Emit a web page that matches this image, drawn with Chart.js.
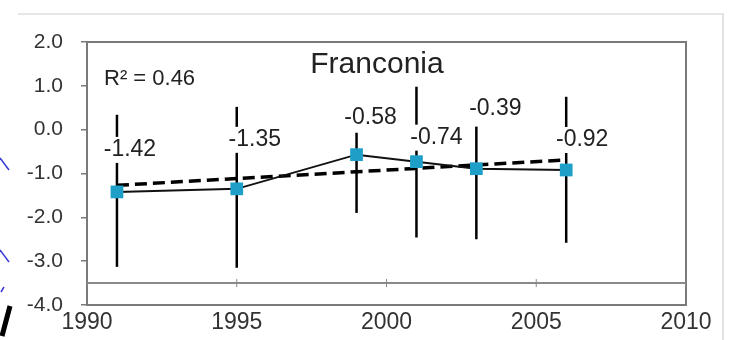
<!DOCTYPE html>
<html>
<head>
<meta charset="utf-8">
<script src="https://cdn.jsdelivr.net/npm/chart.js@4/dist/chart.umd.min.js"></script>
<style>
    html, body { margin: 0; padding: 0; background: #fff; }
    #wrap { position: relative; width: 735px; height: 340px; overflow: hidden; }
    #frame { position: absolute; left: 18px; top: 13px; width: 704px; height: 340px;
             border-top: 2px solid #e6e6e6; border-right: 2px solid #e2e2e2; }
    #deco { position: absolute; left: 0; top: 0; }
    canvas { position: absolute; left: 0; top: 0; }
</style>
</head>
<body>
<div id="wrap">
    <div id="frame"></div>
    <svg id="deco" width="30" height="340">
        <path d="M0 158 L9 170" stroke="#3a3ad8" stroke-width="1.5" fill="none"/>
        <path d="M0 250 L9 262" stroke="#3a3ad8" stroke-width="1.5" fill="none"/>
        <path d="M1 292 L4 287" stroke="#3a3ad8" stroke-width="1.5" fill="none"/>
        <path d="M10 306 L2 336" stroke="#000" stroke-width="5" fill="none"/>
    </svg>
    <canvas id="chart" width="735" height="340"></canvas>
</div>
<script>
// Werte
const years = [1991, 1995, 1999, 2001, 2003, 2006];
const values = [-1.42, -1.35, -0.57, -0.73, -0.89, -0.92];
const errHigh = [0.34, 0.52, -0.07, 0.98, 0.07, 0.75];
const errLow = [-3.13, -3.15, -1.9, -2.46, -2.5, -2.58];
const pointLabels = ['-1.42', '-1.35', '-0.58', '-0.74', '-0.39', '-0.92'];
const trendYears = [1991, 2006];
const trendValues = [-1.27, -0.69];
const baseYears = [1990, 1995, 2000, 2005, 2010];
const baseValues = [-3.5, -3.5, -3.5, -3.5, -3.5];
const yTicks = [2, 1, 0, -1, -2, -3, -4];
const xTicks = [1990, 1995, 2000, 2005, 2010];

const FONT = '"Liberation Sans", Arial, sans-serif';

// Versatz der Werte-Beschriftung relativ zum Punkt (px)
const labelOffsets = [[13, -42], [18, -49], [14, -37], [20, -24], [19, -60], [16, -30]];

const extrasPlugin = {
    id: 'extras',
    beforeDatasetsDraw(chart) {
        const ctx = chart.ctx;
        const xs = chart.scales.x, ys = chart.scales.y;
        const a = chart.chartArea;
        ctx.save();
        // Rahmen
        ctx.strokeStyle = '#7a7a7a';
        ctx.lineWidth = 2;
        ctx.beginPath();
        ctx.moveTo(a.left, a.top);
        ctx.lineTo(a.right, a.top);
        ctx.lineTo(a.right, a.bottom);
        ctx.stroke();
        // Fehlerbalken
        ctx.strokeStyle = '#000';
        ctx.lineWidth = 2.5;
        years.forEach((yr, i) => {
            const px = xs.getPixelForValue(yr);
            ctx.beginPath();
            ctx.moveTo(px, ys.getPixelForValue(errHigh[i]));
            ctx.lineTo(px, ys.getPixelForValue(errLow[i]));
            ctx.stroke();
        });
        // Werte-Beschriftung mit weissem Hintergrund
        ctx.font = '23px ' + FONT;
        ctx.textAlign = 'center';
        ctx.textBaseline = 'middle';
        years.forEach((yr, i) => {
            const px = xs.getPixelForValue(yr) + labelOffsets[i][0];
            const py = ys.getPixelForValue(values[i]) + labelOffsets[i][1];
            const w = ctx.measureText(pointLabels[i]).width;
            ctx.fillStyle = '#fff';
            ctx.fillRect(px - w / 2 - 1, py - 13, w + 2, 26);
            ctx.fillStyle = '#222';
            ctx.fillText(pointLabels[i], px, py);
        });
        // Titel und R²
        ctx.font = '30px ' + FONT;
        ctx.fillText('Franconia', 377, 65);
        ctx.font = '22px ' + FONT;
        ctx.textAlign = 'left';
        ctx.fillText('R² = 0.46', 104, 79);
        ctx.restore();
    }
};

const ctx = document.getElementById('chart').getContext('2d');
new Chart(ctx, {
    type: 'scatter',
    data: {
        datasets: [
            {
                label: 'Basis',
                data: baseYears.map((x, i) => ({ x: x, y: baseValues[i] })),
                showLine: true,
                borderColor: '#8a8a8a',
                borderWidth: 2,
                pointStyle: 'line',
                rotation: 90,
                pointRadius: 4,
                pointBorderColor: '#8a8a8a',
                pointBorderWidth: 1,
                order: 3
            },
            {
                label: 'Trend',
                data: trendYears.map((x, i) => ({ x: x, y: trendValues[i] })),
                showLine: true,
                borderColor: '#000',
                borderWidth: 3.5,
                borderDash: [12, 6],
                pointRadius: 0,
                order: 2
            },
            {
                label: 'Franconia',
                data: years.map((x, i) => ({ x: x, y: values[i] })),
                showLine: true,
                borderColor: '#111',
                borderWidth: 2,
                pointStyle: 'rect',
                pointRadius: 9,
                pointBackgroundColor: '#1e9fc8',
                pointBorderColor: '#1e9fc8',
                pointBorderWidth: 0,
                order: 1
            }
        ]
    },
    options: {
        responsive: false,
        animation: false,
        events: [],
        layout: { padding: { top: 42, right: 49, left: 0, bottom: 0 } },
        plugins: {
            legend: { display: false },
            tooltip: { enabled: false }
        },
        scales: {
            x: {
                type: 'linear',
                min: 1990,
                max: 2010,
                afterBuildTicks: (s) => { s.ticks = xTicks.map(v => ({ value: v })); },
                afterFit: (s) => { s.height = 35; },
                grid: { display: true, drawOnChartArea: false, tickLength: 0, color: '#7a7a7a' },
                border: { color: '#7a7a7a', width: 2 },
                ticks: {
                    color: '#333',
                    padding: 4,
                    maxRotation: 0,
                    font: { family: FONT, size: 23 },
                    callback: (v) => String(v)
                }
            },
            y: {
                min: -4,
                max: 2,
                afterBuildTicks: (s) => { s.ticks = yTicks.map(v => ({ value: v })); },
                afterFit: (s) => { s.width = 87; },
                grid: { display: true, drawOnChartArea: false, tickLength: 6, color: '#7a7a7a', lineWidth: 1.5 },
                border: { color: '#7a7a7a', width: 2 },
                ticks: {
                    color: '#333',
                    padding: 18,
                    font: { family: FONT, size: 21 },
                    callback: (v) => Number(v).toFixed(1)
                }
            }
        }
    },
    plugins: [extrasPlugin]
});
</script>
</body>
</html>
